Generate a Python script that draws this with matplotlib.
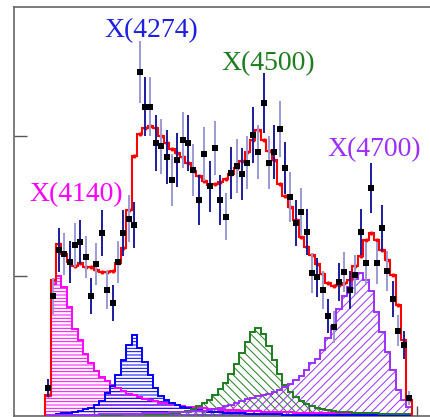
import numpy as np
import matplotlib
matplotlib.use("Agg")
import matplotlib.pyplot as plt

# ---------------- data (J/psi phi mass, 10 MeV bins) ----------------
bin_lo = 4.110      # GeV, lower edge of first bin
bin_w = 0.010       # GeV

counts = [10.0, 42.9, 59.3, 57.9, 55.0, 61.1, 62.1, 56.8, 42.9, 54.3,
          65.4, 45.0, 40.4, 55.0, 65.4, 70.4, 68.2, 122.9, 110.4, 110.4,
          97.5, 96.4, 92.5, 84.3, 91.4, 98.6, 97.5, 87.9, 77.1, 93.6,
          82.1, 95.7, 77.1, 71.1, 86.8, 89.3, 86.4, 90.4, 100.4, 94.3,
          111.8, 90.4, 94.3, 102.5, 88.6, 78.2, 68.9, 72.9, 65.7, 51.1,
          49.6, 45.0, 35.7, 31.8, 47.9, 51.4, 45.0, 50.4, 65.7, 54.6,
          81.4, 54.6, 67.1, 51.8, 41.8, 30.4, 25.4, 6.4]

errors = [3.2, 6.5, 7.7, 7.6, 7.4, 7.8, 7.9, 7.5, 6.5, 7.4,
          8.1, 6.7, 6.4, 7.4, 8.1, 8.4, 8.3, 11.1, 10.5, 10.5,
          9.9, 9.8, 9.6, 9.2, 9.6, 9.9, 9.9, 9.4, 8.8, 9.7,
          9.1, 9.8, 8.8, 8.4, 9.3, 9.5, 9.3, 9.5, 10.0, 9.7,
          10.6, 9.5, 9.7, 10.1, 9.4, 8.8, 8.3, 8.5, 8.1, 7.1,
          7.0, 6.7, 6.0, 5.6, 6.9, 7.2, 6.7, 7.1, 8.1, 7.4,
          9.0, 7.4, 8.2, 7.2, 6.5, 5.5, 5.0, 2.5]

fit_total = [7.5, 48.6, 61.4, 57.9, 55.0, 53.6, 54.6, 53.2, 53.2, 52.1,
             51.4, 51.4, 51.8, 54.6, 60.0, 73.6, 92.9, 100.7, 103.0, 103.4,
             102.9, 100.0, 97.5, 95.4, 93.9, 92.5, 90.4, 87.5, 85.7, 83.9,
             82.5, 82.9, 83.6, 84.6, 86.4, 88.6, 91.1, 94.3, 98.6, 102.1,
             98.6, 94.6, 91.4, 82.9, 78.6, 74.6, 70.0, 63.9, 60.4, 57.5,
             54.3, 50.7, 47.5, 46.4, 46.8, 47.5, 48.6, 53.6, 57.1, 62.9,
             65.4, 62.9, 59.3, 55.7, 50.4, 39.6, 27.1, 5.7]

x4140 = [7.0, 47.0, 50.0, 46.0, 39.0, 31.0, 27.0, 22.0, 19.0, 16.0,
         14.0, 12.5, 11.0, 10.0, 9.0, 8.0, 7.5, 6.8, 6.2, 5.7,
         5.2, 4.8, 4.5, 4.2, 3.9, 3.6, 3.3, 3.1, 2.9, 2.7,
         2.5, 2.4, 2.3, 2.2, 2.1, 2.0, 1.9, 1.8, 1.7, 1.65,
         1.6, 1.5, 1.45, 1.4, 1.35, 1.3, 1.25, 1.2, 1.2, 1.15,
         1.1, 1.1, 1.05, 1.0, 1.0, 1.0, 0.95, 0.95, 0.9, 0.9,
         0.9, 0.85, 0.85, 0.8, 0.8, 0.8, 0.7, 0.6]

x4274 = [0.3, 0.5, 0.7, 0.9, 1.2, 1.5, 1.9, 2.4, 3.0, 4.0,
         5.5, 8.2, 10.7, 14.6, 20.0, 25.4, 28.9, 24.3, 19.3, 14.6,
         10.0, 7.1, 5.7, 4.6, 3.9, 3.2, 2.7, 2.3, 2.0, 1.8,
         1.6, 1.4, 1.3, 1.2, 1.1, 1.0, 0.9, 0.85, 0.8, 0.75,
         0.7, 0.65, 0.6, 0.55, 0.5, 0.5, 0.45, 0.45, 0.4, 0.4,
         0.4, 0.35, 0.35, 0.35, 0.3, 0.3, 0.3, 0.3, 0.3, 0.3,
         0.25, 0.25, 0.25, 0.25, 0.2, 0.2, 0.2, 0.2]

x4500 = [0.3, 0.3, 0.3, 0.3, 0.35, 0.35, 0.35, 0.4, 0.4, 0.4,
         0.45, 0.45, 0.5, 0.5, 0.55, 0.55, 0.6, 0.6, 0.65, 0.7,
         0.75, 0.8, 0.85, 0.9, 1.0, 1.3, 1.8, 2.5, 3.6, 4.6,
         5.7, 7.5, 9.6, 11.8, 15.0, 18.6, 22.5, 26.4, 30.0, 31.4,
         29.3, 25.0, 20.0, 15.0, 11.1, 8.6, 6.8, 5.4, 4.3, 3.6,
         3.0, 2.5, 2.2, 1.9, 1.6, 1.4, 1.3, 1.2, 1.1, 1.0,
         0.95, 0.9, 0.85, 0.8, 0.75, 0.7, 0.7, 0.6]

x4700 = [0.3, 0.3, 0.35, 0.35, 0.4, 0.4, 0.45, 0.45, 0.5, 0.5,
         0.55, 0.6, 0.6, 0.65, 0.7, 0.75, 0.8, 0.85, 0.9, 0.95,
         1.0, 1.1, 1.2, 1.3, 1.4, 1.5, 1.6, 1.7, 1.8, 1.95,
         2.1, 2.5, 2.9, 3.4, 3.9, 4.6, 5.4, 5.9, 6.4, 7.0,
         7.5, 8.0, 8.6, 9.3, 10.4, 11.4, 12.9, 14.3, 16.4, 18.9,
         20.4, 23.6, 27.9, 32.1, 38.2, 42.9, 46.1, 48.9, 51.1, 48.6,
         44.6, 37.1, 30.0, 22.9, 16.4, 9.3, 5.7, 3.2]

labels = ["X(4140)", "X(4274)", "X(4500)", "X(4700)"]
label_pos = [(4.167, 79.0), (4.306, 137.5), (4.523, 126.0), (4.72, 95.0)]

y_ticks = [50, 100]
x_ticks = [4.2, 4.4, 4.6, 4.8]

# ---------------- figure ----------------
plt.rcParams['hatch.linewidth'] = 0.7
W, H = 431, 417
fig = plt.figure(figsize=(W / 100, H / 100), dpi=100)
ax = fig.add_axes([14 / W, 1 / H, 446 / W, 409 / H])

n = len(counts)
edges = bin_lo + bin_w * np.arange(n + 1)
centers = 0.5 * (edges[:-1] + edges[1:])

comp_styles = [
    (x4140, '#ff00ff', '-----'),
    (x4274, '#0000ff', '-----'),
    (x4500, '#1e7d1e', '\\\\\\\\'),
    (x4700, '#9b30ff', '////'),
]
for vals, col, hatch in comp_styles:
    ax.stairs(vals, edges, fill=True, facecolor='none', edgecolor=col,
              hatch=hatch, linewidth=0, zorder=2)
    ax.stairs(vals, edges, color=col, linewidth=1.4, zorder=3)

# total fit
ax.stairs(fit_total, edges, color='#ff0000', linewidth=1.5, zorder=4)
ax.plot(centers, fit_total, 'o', color='#ff0000', markersize=3.0,
        markeredgewidth=0, zorder=4)

# data with alternating error bar shades
for i in range(n):
    ecol = '#1c1c9c' if i % 2 == 0 else '#9a9ad6'
    ax.errorbar(centers[i], counts[i], yerr=errors[i], fmt='none',
                ecolor=ecol, elinewidth=1.4, capsize=0, zorder=5)
ax.plot(centers, counts, 's', color='black', markersize=4.5,
        markeredgewidth=0, zorder=6)

label_cols = ['#ff00ff', '#1f1fe0', '#1e7d1e', '#9b30ff']
for txt, (lx, ly), col in zip(labels, label_pos, label_cols):
    ax.text(lx, ly, txt, color=col, fontsize=20, family='Liberation Serif',
            ha='center', va='center', zorder=7)

ax.set_xlim(4.0519, 4.0519 + 446 / 538.8)
ax.set_ylim(0, 409 / 2.8)
ax.set_xticks(x_ticks)
ax.set_yticks(y_ticks)
ax.tick_params(axis='both', which='both', direction='in', labelleft=False,
               labelbottom=False, color='#555555', width=1.0)
ax.tick_params(axis='y', length=9.5)
ax.tick_params(axis='x', length=7)
ax.minorticks_off()
for side in ['top', 'left', 'bottom']:
    ax.spines[side].set_color('#666666')
    ax.spines[side].set_linewidth(1.2)
ax.spines['right'].set_visible(False)

fig.savefig('out.png', dpi=100)
